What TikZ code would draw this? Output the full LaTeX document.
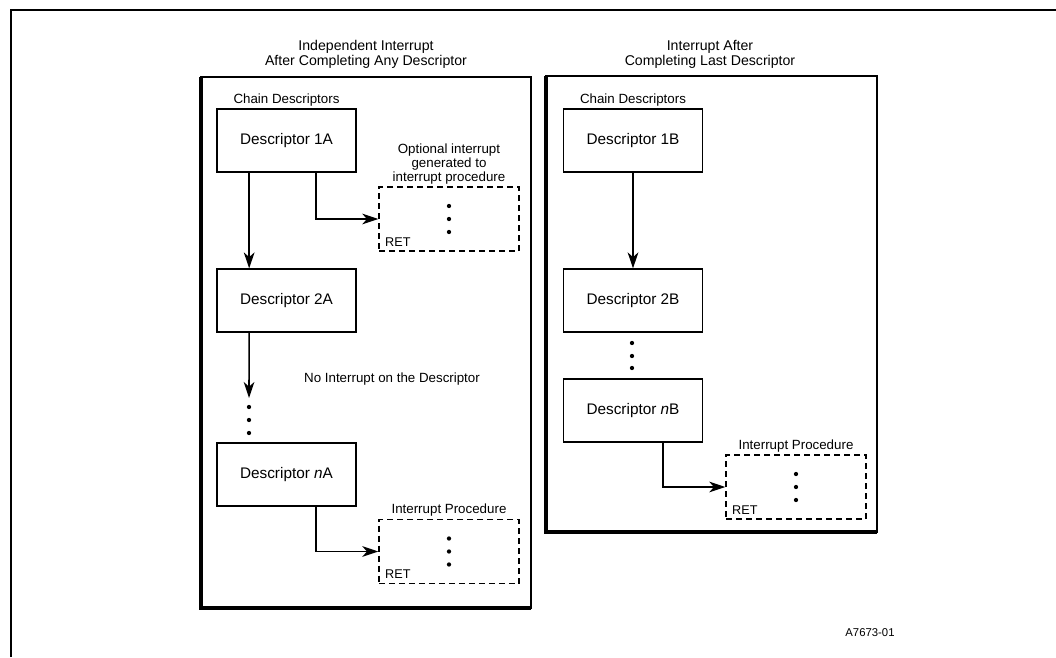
\documentclass[tikz,border=0pt]{standalone}
\usepackage{fontspec}
\setmainfont{Liberation Sans}
\usetikzlibrary{positioning}
\usetikzlibrary{arrows.meta}

\tikzset{
  desc/.style={draw, line width=1.1pt, minimum width=104pt, minimum height=47pt,
    font=\fontsize{11.5}{13}\selectfont},
  proc/.style={draw, line width=1.1pt, dash pattern=on 4.5pt off 3pt,
    minimum width=105pt, minimum height=48pt},
  lbl/.style={font=\fontsize{10}{10.5}\selectfont, align=center, inner sep=1.5pt},
  ttl/.style={font=\fontsize{10.6}{11.25}\selectfont, align=center},
  retlbl/.style={font=\fontsize{9.5}{10}\selectfont, anchor=south west,
    inner xsep=5pt, inner ysep=4pt},
  flow/.style={line width=1.2pt, -{Stealth[length=12pt,width=8pt,inset=3.5pt]}}
}

\begin{document}
\begin{tikzpicture}[x=0.75pt, y=-0.75pt]
        \useasboundingbox (0,0) rectangle (1056,657);
        % page frame
        \draw[line width=1.5pt] (11,657) -- (11,10) -- (1056,10);

        % the two panels, heavy on the left and bottom
        \draw[line width=1.3pt] (201,77) rectangle (531,608);
        \draw[line width=3pt] (201,77) -- (201,608) -- (531,608);
        \draw[line width=1.3pt] (546,76) rectangle (877,532);
        \draw[line width=3pt] (546,76) -- (546,532) -- (877,532);

        \node[ttl] (ttlA) at (366,54.5) {Independent Interrupt\\After Completing Any Descriptor};
        \node[ttl] (ttlB) at (710,54.5) {Interrupt After\\Completing Last Descriptor};

        % left chain
        \node[desc] (d1a) at (286.5,140.5) {Descriptor 1A};
        \node[desc] (d2a) at (286.5,300.5) {Descriptor 2A};
        \node[desc] (dna) at (286.5,474.5) {Descriptor \textit{n}A};
        \node[lbl, above=0pt of d1a] (chainA) {Chain Descriptors};
        \coordinate (dotsA) at (249,398);
        \foreach \y in {407,420,433}
            \fill (249,\y) circle (1.6pt);

        \node[proc] (p1a) at (449,219) {};
        \node[proc] (p2a) at (449,551.5) {};
        \node[lbl, above=0pt of p1a] (optA) {Optional interrupt\\generated to\\interrupt procedure};
        \node[lbl, above=0pt of p2a] (procA) {Interrupt Procedure};
        \node[retlbl] (ret1a) at (p1a.south west) {RET};
        \node[retlbl] (ret2a) at (p2a.south west) {RET};
        \node[lbl] (noint) at (392,379) {No Interrupt on the Descriptor};

        \draw[flow] ([xshift=-28pt]d1a.south) -- ([xshift=-28pt]d2a.north);
        \draw[flow] ([xshift=-28pt]d2a.south) -- (dotsA);
        \draw[flow] ([xshift=22pt]d1a.south) |- (p1a.west);
        \draw[flow] ([xshift=22pt]dna.south) |- (p2a.west);

        % right chain
        \node[desc] (d1b) at (633,140.5) {Descriptor 1B};
        \node[desc] (d2b) at (633,300.5) {Descriptor 2B};
        \node[desc] (dnb) at (633,410.5) {Descriptor \textit{n}B};
        \node[lbl, above=0pt of d1b] (chainB) {Chain Descriptors};
        \foreach \y in {343,356,368}
            \fill (632,\y) circle (1.6pt);

        \node[proc] (pb) at (796,487) {};
        \node[lbl, above=0pt of pb] (procB) {Interrupt Procedure};
        \node[retlbl] (retb) at (pb.south west) {RET};

        \draw[flow] (d1b.south) -- (d2b.north);
        \draw[flow] ([xshift=22.5pt]dnb.south) |- (pb.west);

        % dots inside the procedure boxes
        \foreach \p in {p1a,p2a,pb}
            \foreach \dy in {-9.75,0,9.75}
                \fill ([yshift=\dy pt]\p.center) circle (1.6pt);

        \node[font=\fontsize{8.5}{9}\selectfont] (fig) at (870,633) {A7673-01};
\end{tikzpicture}
\end{document}
